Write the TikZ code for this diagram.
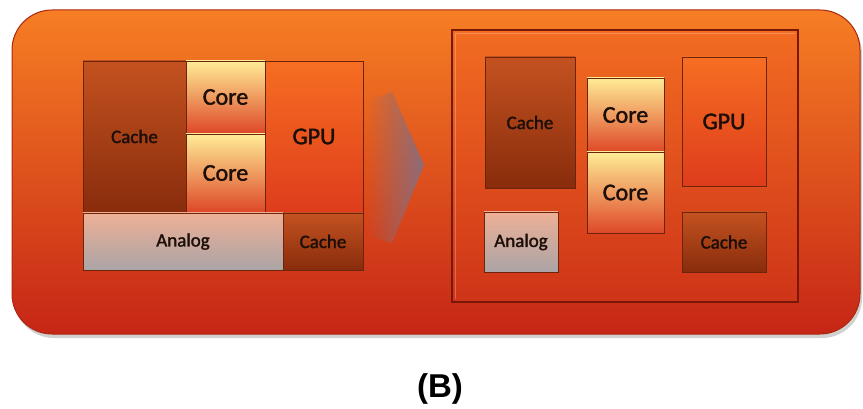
\documentclass[tikz,border=0pt]{standalone}
\usepackage{fontspec}
\usetikzlibrary{fadings}
\setmainfont{Carlito}
\newfontfamily\blkfont{Carlito}[FakeBold=1.6]
\newfontfamily\capfont{Liberation Sans}
\definecolor{bgTop}{RGB}{246,126,36}
\definecolor{bgMid}{RGB}{238,96,28}
\definecolor{bgBot}{RGB}{198,38,22}
\definecolor{bgEdge}{RGB}{170,40,16}
\definecolor{chipTop}{RGB}{242,108,34}
\definecolor{chipBot}{RGB}{206,52,24}
\definecolor{chipEdge}{RGB}{120,24,8}
\definecolor{cacheTop}{RGB}{196,82,32}
\definecolor{cacheBot}{RGB}{136,44,12}
\definecolor{coreTop}{RGB}{255,236,150}
\definecolor{coreMid}{RGB}{246,178,92}
\definecolor{coreBot}{RGB}{222,72,40}
\definecolor{gpuTop}{RGB}{246,110,34}
\definecolor{gpuBot}{RGB}{222,60,28}
\definecolor{anaTop}{RGB}{238,176,150}
\definecolor{anaBot}{RGB}{170,164,166}
\definecolor{blkEdge}{RGB}{110,36,10}
\definecolor{txt}{RGB}{28,14,8}
\definecolor{arrowCol}{RGB}{140,108,122}
\tikzfading[name=arrowfade, left color=transparent!100, right color=transparent!0]
\tikzset{
  blk/.style={draw=blkEdge, line width=0.8pt, inner sep=0pt, outer sep=0pt,
    anchor=north west, text=txt},
  small/.style={font=\blkfont\fontsize{19}{19}\selectfont},
  big/.style={font=\blkfont\fontsize{24}{24}\selectfont},
  cacheblk/.style={blk, small, top color=cacheTop, bottom color=cacheBot},
  coreblk/.style={blk, big, top color=coreTop, middle color=coreMid, bottom color=coreBot},
  gpublk/.style={blk, big, top color=gpuTop, bottom color=gpuBot},
  anablk/.style={blk, small, top color=anaTop, bottom color=anaBot},
}
\begin{document}
\begin{tikzpicture}[x=1pt,y=-1pt]
\useasboundingbox (0,0) rectangle (863,409);
% drop shadow and rounded background panel
\fill[black, opacity=0.18, rounded corners=40pt] (14,14) rectangle (862,338);
\draw[bgEdge, line width=1pt, top color=bgTop, middle color=bgMid, bottom color=bgBot, rounded corners=40pt]
  (12,10) rectangle (860,334);

% ---- left: original chip layout ----
\node[cacheblk, minimum width=103pt, minimum height=151pt] (lcache) at (83,61) {Cache};
\node[coreblk, minimum width=79pt, minimum height=72pt] (lcore1) at (186,61) {Core};
\node[coreblk, minimum width=79pt, minimum height=78pt] (lcore2) at (186,134) {Core};
\node[gpublk, minimum width=98pt, minimum height=151pt] (lgpu) at (265,61) {GPU};
\node[anablk, minimum width=200pt, minimum height=57pt] (lana) at (83,213) {Analog};
\node[cacheblk, minimum width=80pt, minimum height=57pt] (lcache2) at (283,213) {Cache};

% ---- transition arrow (fades in from the left) ----
\coordinate (atip) at (424,165);
\fill[arrowCol, path fading=arrowfade]
  (368,100) -- (392,92) -- (atip) -- (392,243) -- (368,236) -- cycle;

% ---- right: reorganised chip ----
\draw[chipEdge, line width=2pt, top color=chipTop, bottom color=chipBot] (452,30) rectangle (798,302);
\draw[white, opacity=0.25, line width=0.8pt] (455,299) -- (455,33) -- (795,33);
\node[cacheblk, minimum width=90pt, minimum height=131pt] (rcache) at (485,57) {Cache};
\node[coreblk, minimum width=77pt, minimum height=74pt] (rcore1) at (587,78) {Core};
\node[coreblk, minimum width=77pt, minimum height=81pt] (rcore2) at (587,152) {Core};
\node[gpublk, minimum width=84pt, minimum height=129pt] (rgpu) at (682,57) {GPU};
\node[anablk, minimum width=74pt, minimum height=60pt] (rana) at (484,212) {Analog};
\node[cacheblk, minimum width=84pt, minimum height=60pt] (rcache2) at (682,212) {Cache};

% ---- caption ----
\node[font=\capfont\bfseries\fontsize{33}{33}\selectfont] (cap) at (440,389) {(B)};
\end{tikzpicture}
\end{document}
